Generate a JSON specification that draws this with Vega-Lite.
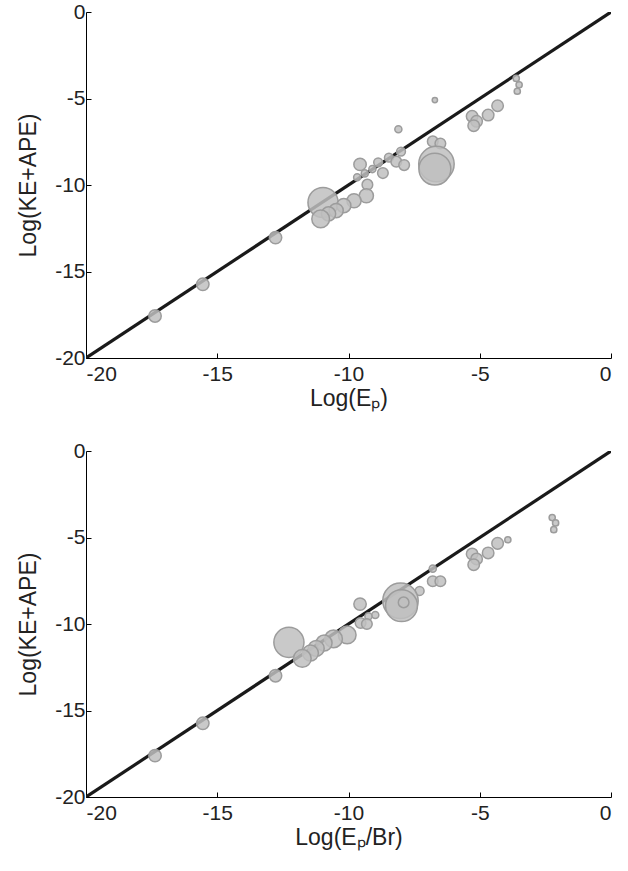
{
  "$schema": "https://vega.github.io/schema/vega-lite/v6.json",
  "background": "white",
  "padding": {"left": 17, "top": 1, "right": 10, "bottom": 5},
  "spacing": 30,
  "config": {
    "view": {"stroke": null},
    "axis": {
      "grid": false,
      "domainColor": "#000",
      "domainWidth": 1,
      "tickColor": "#000",
      "tickWidth": 1,
      "tickSize": -5,
      "labelFont": "Liberation Sans",
      "labelFontSize": 21,
      "labelColor": "#222",
      "labelExpr": "replace(datum.label, '−', '-')",
      "titleFont": "Liberation Sans",
      "titleFontSize": 23,
      "titleFontWeight": "normal",
      "titleColor": "#222"
    }
  },
  "datasets": {
    "top": [
      {"x": -3.61, "y": -3.84, "r": 3.5}, {"x": -3.50, "y": -4.21, "r": 3.5}, {"x": -3.57, "y": -4.58, "r": 3.5},
      {"x": -6.71, "y": -5.09, "r": 3}, {"x": -4.32, "y": -5.42, "r": 6.5}, {"x": -4.68, "y": -5.96, "r": 6.5},
      {"x": -5.29, "y": -6.03, "r": 6.5}, {"x": -5.12, "y": -6.32, "r": 6.5}, {"x": -5.23, "y": -6.57, "r": 6.5},
      {"x": -8.10, "y": -6.78, "r": 4}, {"x": -6.79, "y": -7.48, "r": 6}, {"x": -6.50, "y": -7.60, "r": 6},
      {"x": -6.65, "y": -8.79, "r": 20}, {"x": -6.71, "y": -9.08, "r": 18}, {"x": -8.00, "y": -8.07, "r": 5},
      {"x": -8.46, "y": -8.42, "r": 5}, {"x": -8.18, "y": -8.65, "r": 6}, {"x": -7.88, "y": -8.85, "r": 6},
      {"x": -8.87, "y": -8.69, "r": 5}, {"x": -9.56, "y": -8.81, "r": 7}, {"x": -9.09, "y": -9.08, "r": 4},
      {"x": -8.69, "y": -9.31, "r": 6}, {"x": -9.38, "y": -9.33, "r": 4}, {"x": -9.67, "y": -9.55, "r": 4},
      {"x": -9.28, "y": -9.98, "r": 6}, {"x": -10.97, "y": -11.01, "r": 17}, {"x": -9.32, "y": -10.62, "r": 8},
      {"x": -9.79, "y": -10.91, "r": 8}, {"x": -10.18, "y": -11.19, "r": 8}, {"x": -10.47, "y": -11.48, "r": 8},
      {"x": -10.76, "y": -11.67, "r": 8}, {"x": -11.06, "y": -11.96, "r": 10}, {"x": -12.78, "y": -13.04, "r": 7},
      {"x": -15.55, "y": -15.74, "r": 7}, {"x": -17.37, "y": -17.57, "r": 7}
    ],
    "bottom": [
      {"x": -2.24, "y": -3.85, "r": 3.5}, {"x": -2.11, "y": -4.16, "r": 3.5}, {"x": -2.18, "y": -4.55, "r": 3.5},
      {"x": -3.93, "y": -5.13, "r": 3.5}, {"x": -4.32, "y": -5.34, "r": 6.5}, {"x": -4.68, "y": -5.89, "r": 6.5},
      {"x": -5.29, "y": -5.95, "r": 6.5}, {"x": -5.12, "y": -6.24, "r": 6.5}, {"x": -5.23, "y": -6.57, "r": 6.5},
      {"x": -6.79, "y": -6.80, "r": 4}, {"x": -6.79, "y": -7.53, "r": 6}, {"x": -6.50, "y": -7.53, "r": 6},
      {"x": -7.29, "y": -8.09, "r": 5}, {"x": -8.02, "y": -8.66, "r": 20}, {"x": -7.98, "y": -8.94, "r": 18},
      {"x": -7.90, "y": -8.75, "r": 6}, {"x": -9.56, "y": -8.85, "r": 7}, {"x": -8.98, "y": -9.48, "r": 4},
      {"x": -9.24, "y": -9.56, "r": 4}, {"x": -9.54, "y": -9.94, "r": 6}, {"x": -9.30, "y": -10.00, "r": 6},
      {"x": -12.27, "y": -11.06, "r": 17}, {"x": -10.05, "y": -10.63, "r": 10}, {"x": -10.57, "y": -10.86, "r": 10},
      {"x": -10.93, "y": -11.10, "r": 9}, {"x": -11.23, "y": -11.41, "r": 9}, {"x": -11.45, "y": -11.68, "r": 9},
      {"x": -11.76, "y": -11.99, "r": 10}, {"x": -12.78, "y": -12.99, "r": 7}, {"x": -15.55, "y": -15.74, "r": 7},
      {"x": -17.37, "y": -17.61, "r": 7}
    ],
    "diag": [{"x": -20, "y": -20}, {"x": 0, "y": 0}]
  },
  "vconcat": [
    {
      "width": 525,
      "height": 346,
      "layer": [
        {
          "data": {"name": "diag"},
          "mark": {"type": "line", "color": "#1a1a1a", "strokeWidth": 3.2, "clip": true},
          "encoding": {
            "x": {"field": "x", "type": "quantitative", "scale": {"domain": [-20, 0], "nice": false}, "axis": {"values": [-20, -15, -10, -5, 0], "title": "Log(Eₚ)", "labelPadding": 10, "titlePadding": 3}},
            "y": {"field": "y", "type": "quantitative", "scale": {"domain": [-20, 0], "nice": false}, "axis": {"values": [-20, -15, -10, -5, 0], "title": "Log(KE+APE)", "labelPadding": 6, "titlePadding": 14}}
          }
        },
        {
          "data": {"name": "top"},
          "mark": {"type": "circle", "fill": "#c0c0c0", "fillOpacity": 0.85, "stroke": "#9c9c9c", "strokeWidth": 1.5, "opacity": 1},
          "encoding": {
            "x": {"field": "x", "type": "quantitative"},
            "y": {"field": "y", "type": "quantitative"},
            "size": {"field": "r", "type": "quantitative", "scale": {"type": "pow", "exponent": 2, "domain": [0, 20], "range": [0, 1257], "zero": true}, "legend": null}
          }
        }
      ]
    },
    {
      "width": 525,
      "height": 346,
      "layer": [
        {
          "data": {"name": "diag"},
          "mark": {"type": "line", "color": "#1a1a1a", "strokeWidth": 3.2, "clip": true},
          "encoding": {
            "x": {"field": "x", "type": "quantitative", "scale": {"domain": [-20, 0], "nice": false}, "axis": {"values": [-20, -15, -10, -5, 0], "title": "Log(Eₚ/Br)", "labelPadding": 10, "titlePadding": 3}},
            "y": {"field": "y", "type": "quantitative", "scale": {"domain": [-20, 0], "nice": false}, "axis": {"values": [-20, -15, -10, -5, 0], "title": "Log(KE+APE)", "labelPadding": 6, "titlePadding": 14}}
          }
        },
        {
          "data": {"name": "bottom"},
          "mark": {"type": "circle", "fill": "#c0c0c0", "fillOpacity": 0.85, "stroke": "#9c9c9c", "strokeWidth": 1.5, "opacity": 1},
          "encoding": {
            "x": {"field": "x", "type": "quantitative"},
            "y": {"field": "y", "type": "quantitative"},
            "size": {"field": "r", "type": "quantitative", "scale": {"type": "pow", "exponent": 2, "domain": [0, 20], "range": [0, 1257], "zero": true}, "legend": null}
          }
        }
      ]
    }
  ]
}
